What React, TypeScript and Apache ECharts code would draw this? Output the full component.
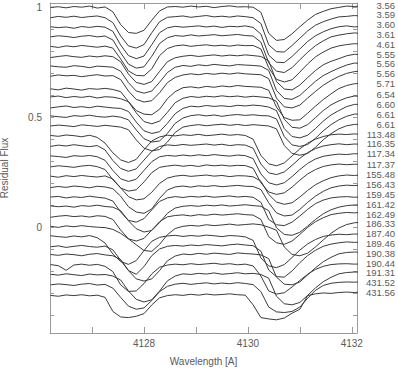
import React, { useEffect, useRef } from "react";
import * as echarts from "echarts";

// Wavelength grid (Angstrom)
const wavelengths = [
  4126.2, 4126.35, 4126.5, 4126.65, 4126.8, 4126.95, 4127.1, 4127.25, 4127.4, 4127.55,
  4127.7, 4127.85, 4128.0, 4128.15, 4128.3, 4128.45, 4128.6, 4128.75, 4128.9, 4129.05,
  4129.2, 4129.35, 4129.5, 4129.65, 4129.8, 4129.95, 4130.1, 4130.25, 4130.4, 4130.55,
  4130.7, 4130.85, 4131.0, 4131.15, 4131.3, 4131.45, 4131.6, 4131.75, 4131.9, 4132.05, 4132.2,
];

// Phase / epoch labels (top to bottom)
const phaseLabels = [
  "3.56", "3.59", "3.60", "3.61", "4.61", "5.55", "5.56", "5.56", "5.71", "6.54",
  "6.60", "6.61", "6.61", "113.48", "116.35", "117.34", "117.37", "155.48", "156.43", "159.45",
  "161.42", "162.49", "186.33", "187.40", "189.46", "190.38", "190.44", "191.31", "431.52", "431.56",
];

// Continuum level (vertical offset) of each spectrum
const offsets = [
  1.0, 0.955, 0.909, 0.866, 0.821, 0.775, 0.73, 0.688, 0.627, 0.591,
  0.545, 0.503, 0.46, 0.415, 0.37, 0.321, 0.275, 0.23, 0.182, 0.136,
  0.094, 0.048, 0.003, -0.043, -0.088, -0.126, -0.171, -0.217, -0.262, -0.312,
];

// Flux deviation from continuum, per mille, on the wavelength grid
const s01 = [0,3,-2,4,1,6,-3,2, -20,-78,-114,-118,-104,-58,-16,2, 4,1,6,2,5,-1,4,7,2,3, 1,-22,-118,-150,-146,-120,-88,-58,-32,-18,-6,0, 6,4,8];
const s02 = [-2,4,0,5,-1,3,6,-2, -24,-85,-130,-140,-124,-70,-20,0, 3,6,0,4,8,2,5,1,6,3, -2,-28,-125,-156,-158,-128,-95,-62,-36,-20,-8,2, 4,8,5];
const s03 = [3,-1,2,-4,4,0,5,1, -18,-80,-128,-142,-130,-78,-24,-2, 5,1,4,7,2,6,0,5,3,7, 0,-30,-126,-158,-160,-132,-98,-64,-38,-20,-6,3, 7,2,6];
const s04 = [0,5,2,-3,3,6,0,4, -14,-72,-124,-142,-136,-88,-30,-4, 6,3,9,4,7,10,5,8,11,6, 4,-24,-118,-156,-162,-140,-104,-70,-40,-18,0,8, 14,18,15];
const s05 = [2,-3,4,0,6,2,-2,3, -6,-55,-110,-130,-132,-100,-40,-8, 4,8,2,6,9,4,7,3,8,5, 6,-10,-95,-148,-160,-150,-115,-78,-46,-24,-6,4, 10,14,12];
const s06 = [-3,2,6,1,-2,4,0,5, 1,-22,-78,-116,-125,-112,-66,-22,-4, 3,7,2,6,9,4,8,5,9,6, 2,-18,-112,-146,-150,-128,-94,-62,-36,-20,-8,5, 12,10];
const s07 = [4,0,-2,5,2,-4,3,1, -2,-20,-72,-110,-120,-110,-70,-26,-2, 6,2,9,5,11,7,4,10,8,6, 3,-16,-108,-144,-148,-130,-98,-66,-40,-22,-6,8, 17,15];
const s08 = [-1,5,1,3,-3,2,6,0, 2,-16,-68,-106,-118,-112,-76,-30,-6, 5,10,6,12,8,13,9,14,10,8, 6,-12,-100,-140,-145,-132,-100,-70,-42,-20,-2,12, 20,24];
const s09 = [3,-2,6,2,-3,4,1,5, 0,-10,-55,-96,-112,-115,-90,-42,-10, 8,12,7,14,10,16,12,18,14,12, 10,-4,-80,-128,-140,-138,-108,-76,-46,-20,4,18, 26,28];
const s10 = [2,6,-1,4,0,5,-3,3,1, -6,-20,-70,-110,-120,-108,-68,-24,-4, 4,0,5,2,7,3,6,1,5,2, -2,-18,-100,-136,-140,-124,-92,-60,-34,-16,-2,6, 5];
const s11 = [-2,3,7,0,4,-1,6,2,-2, -4,-18,-66,-106,-118,-110,-72,-28,-4, 6,3,9,5,8,4,10,7,11,8, 2,-14,-96,-132,-138,-126,-96,-62,-34,-14,4,14, 15];
const s12 = [4,0,-3,5,2,7,1,-2,3, -2,-14,-60,-100,-115,-110,-76,-30,-6, 5,9,4,8,2,7,10,6,9,5, 4,-10,-90,-128,-135,-126,-98,-64,-36,-14,2,12, 12];
const s13 = [1,5,2,-2,6,3,-1,4,0, -4,-16,-62,-100,-112,-106,-72,-28,-4, 3,7,2,6,9,4,8,3,7,4, 1,-12,-88,-124,-132,-124,-96,-62,-34,-12,2,8, 9];
const s14 = [3,-1,5,2,-3,4, -6,-32,-76,-108,-120,-106,-62,-22,-4, 4,1,6,3,8,2,5,9,4,7, 3,-14,-88,-126,-135,-122,-90,-58,-32,-14,-2,6, 9,7,10,8];
const s15 = [-2,4,0,6,1,-3, 2,-18,-66,-102,-115,-104,-64,-24,-2, 5,2,7,3,6,9,4,8,2,6, 4,-10,-82,-122,-130,-118,-88,-56,-30,-12,0,6, 10,6,9,8];
const s16 = [4,1,-3,5,2,6, 0,-16,-62,-100,-112,-102,-62,-22,0, 6,3,8,4,9,5,10,6,3,8, 5,-8,-78,-118,-128,-118,-90,-58,-30,-10,2,8, 12,10,14,12];
const s17 = [0,5,2,-2,4,7, 1,-12,-58,-96,-110,-104,-68,-26,-2, 4,8,3,7,2,9,5,8,4,7, 6,-6,-72,-114,-125,-118,-92,-60,-32,-12,2,9, 13,10,12,12];
const s18 = [3,-2,5,1,6,2,-1,4, -10,-50,-90,-105,-100,-70,-30,-6, 3,7,2,5,8,3,6,1,5,4, 0,-20,-80,-115,-125,-118,-92,-62,-36,-18,-4,4, 8,6,9];
const s19 = [-1,4,0,6,3,-2,5,2, -6,-40,-88,-112,-118,-98,-50,-12, 2,6,1,7,4,8,3,6,9,5, 4,-10,-70,-116,-130,-126,-100,-68,-40,-18,-2,6, 10,8,11];
const s20 = [2,5,-2,3,0,6,1,-3, -16,-66,-104,-112,-96,-56,-18,-2, 4,0,5,2,6,1,4,7,2,5, 1,-22,-100,-124,-128,-112,-84,-54,-28,-12,-2,2, 4,1,3];
const s21 = [4,0,3,-2,5,2,7,1, -2,-18,-64,-100,-115,-108,-72,-30,-6, 2,5,2,7,4,8,3,6,9,5, 2,-18,-96,-126,-130,-116,-88,-58,-32,-14,-2,5, 8,8];
const s22 = [-2,3,6,1,4,-1,5,2, -12,-60,-100,-110,-98,-60,-22,0, 6,9,4,10,7,12,8,11,14,10, 8,-12,-90,-118,-125,-110,-80,-48,-22,-4,10,16, 20,18,22];
const s23 = [2,-3,4,0,5,1,-2, -4,-12,-30,-55,-82,-108,-112,-80,-36,-8,2, 6,3,9,5,8,12,7,10,13,9, -2,-16,-92,-126,-132,-120,-92,-60,-30,-6,10,18, 21];
const s24 = [5,1,-2,4,0,6, -4,-28,-78,-112,-125,-108,-62,-20,-2, 4,7,2,6,3,8,5,1,6,4, 0,-16,-96,-132,-140,-126,-94,-60,-32,-12,2,8, 12,10,13,12];
const s25 = [0,4,-3,2,6,1,-2,3, -14,-62,-108,-125,-90,-40,-10,2, 6,3,8,5,10,7,4,9,12,8, 5,-20,-106,-136,-138,-110,-72,-40,-16,2,12,18, 22,20,21];
const s26 = [3,-1,5,2,-3,4,7,1, -3,-20,-70,-108,-118,-108,-70,-26,-4, 5,2,8,4,9,6,3,10,7,5, 1,-16,-100,-132,-135,-122,-90,-58,-30,-10,6,12, 14,13];
const s27 = [2,-3,-24,0,4,-1,3,-6, -30,-90,-120,-118,-84,-40,-10,0, 4,1,6,2,5,8,3,6,1,4, -4,-50,-118,-132,-126,-100,-70,-42,-20,-6,2,5, 6,4,5];
const s28 = [4,0,6,2,-2,5,1,3, -4,-22,-72,-110,-122,-112,-72,-26,-4, 6,3,8,5,10,4,7,11,6,8, 3,-14,-96,-130,-135,-124,-92,-58,-30,-10,6,12, 14,14];
const s29 = [1,5,2,-2,4,7,0,3, -14,-56,-96,-110,-104,-70,-30,-6, 4,8,3,7,10,5,9,6,11,7, 2,-30,-100,-122,-125,-120,-100,-60,-24,-2,8,12, 14,13,15];
const s30 = [3,-1,5,2,6,1,4,-6, -70,-95,-98,-92,-80,-40,-8,2, 6,3,8,4,9,5,7,10,6,4, -40,-98,-104,-108,-100,-78,-60,2,10,14,12,16, 18,16,19];

const spectra = [
  s01, s02, s03, s04, s05, s06, s07, s08, s09, s10,
  s11, s12, s13, s14, s15, s16, s17, s18, s19, s20,
  s21, s22, s23, s24, s25, s26, s27, s28, s29, s30,
];

const xTicks = [4127, 4128, 4129, 4130, 4131, 4132];
const xLabels = [4128, 4130, 4132];
const yTicks = [-0.4, -0.3, -0.2, -0.1, 0, 0.1, 0.2, 0.3, 0.4, 0.5, 0.6, 0.7, 0.8, 0.9, 1.0];
const yLabels = [0, 0.5, 1];

const X_MIN = 4126.19;
const X_MAX = 4132.1;
const Y_MIN = -0.48;
const Y_MAX = 1.02;

export default function App() {
  const ref = useRef<HTMLDivElement>(null);

  useEffect(() => {
    if (!ref.current) return;
    const chart = echarts.init(ref.current, undefined, { renderer: "svg" });

    const frame = "#9a9a9a";
    const textColor = "#5a5a5a";
    const font = "Liberation Sans";
    const plain = (v: number) => String(v);

    const series = spectra.map((s, i) => ({
      type: "line",
      xAxisIndex: 0,
      yAxisIndex: 0,
      data: wavelengths.map((w, j) => [w, offsets[i] + s[j] / 1000]),
      showSymbol: false,
      symbol: "none",
      silent: true,
      clip: true,
      lineStyle: { color: "#3a3a3a", width: 1 },
    }));

    chart.setOption({
      animation: false,
      grid: { left: 50, top: 3, width: 307, height: 330, containLabel: false, outerBoundsMode: "none" },
      xAxis: [
        {
          type: "value",
          position: "bottom",
          min: X_MIN,
          max: X_MAX,
          name: "Wavelength [A]",
          nameLocation: "middle",
          nameGap: 23,
          nameTextStyle: { color: textColor, fontSize: 10, fontFamily: font },
          axisLine: { show: true, onZero: false, lineStyle: { color: frame, width: 1 } },
          axisTick: { show: true, inside: true, length: 6, customValues: xTicks, lineStyle: { color: frame } },
          axisLabel: { show: true, customValues: xLabels, formatter: plain, margin: 5, color: textColor, fontSize: 10, fontFamily: font },
          splitLine: { show: false },
        },
        {
          type: "value",
          position: "top",
          min: X_MIN,
          max: X_MAX,
          axisLine: { show: true, onZero: false, lineStyle: { color: frame, width: 1 } },
          axisTick: { show: true, inside: true, length: 6, customValues: xTicks, lineStyle: { color: frame } },
          axisLabel: { show: false },
          splitLine: { show: false },
        },
      ],
      yAxis: [
        {
          type: "value",
          position: "left",
          min: Y_MIN,
          max: Y_MAX,
          name: "Residual Flux",
          nameLocation: "middle",
          nameGap: 41,
          nameTextStyle: { color: textColor, fontSize: 10, fontFamily: font },
          axisLine: { show: true, onZero: false, lineStyle: { color: frame, width: 1 } },
          axisTick: { show: true, inside: true, length: 4, customValues: yTicks, lineStyle: { color: frame } },
          axisLabel: { show: true, customValues: yLabels, formatter: plain, margin: 8, color: textColor, fontSize: 10, fontFamily: font },
          splitLine: { show: false },
        },
        {
          type: "value",
          position: "right",
          min: Y_MIN,
          max: Y_MAX,
          axisLine: { show: true, onZero: false, lineStyle: { color: frame, width: 1 } },
          axisTick: { show: true, inside: true, length: 4, customValues: yTicks, lineStyle: { color: frame } },
          axisLabel: { show: false },
          splitLine: { show: false },
        },
      ],
      series,
    });

    // Labels at the right-hand end of each spectrum, spread apart slightly so they don't collide
    const endValues = spectra.map((s, i) => offsets[i] + s[39] / 1000);
    const ys = endValues.map((v) => chart.convertToPixel({ yAxisIndex: 0 }, v) as number);
    const minGap = 9.8;
    for (let it = 0; it < 200; it++) {
      let moved = false;
      for (let i = 0; i < ys.length - 1; i++) {
        const gap = ys[i + 1] - ys[i];
        if (gap < minGap) {
          const d = (minGap - gap) / 2;
          ys[i] -= d;
          ys[i + 1] += d;
          moved = true;
        }
      }
      if (!moved) break;
    }
    const xRight = (chart.convertToPixel({ xAxisIndex: 0 }, X_MAX) as number) + 38;
    chart.setOption({
      graphic: phaseLabels.map((t, i) => ({
        type: "text",
        x: xRight,
        y: ys[i],
        silent: true,
        style: {
          text: t,
          align: "right",
          verticalAlign: "middle",
          fontSize: 9.5,
          fontFamily: font,
          fill: textColor,
        },
      })),
    });

    return () => chart.dispose();
  }, []);

  return (
    <div
      ref={ref}
      style={{ position: "absolute", left: 0, top: 0, width: 398, height: 369, background: "#fff" }}
    />
  );
}
